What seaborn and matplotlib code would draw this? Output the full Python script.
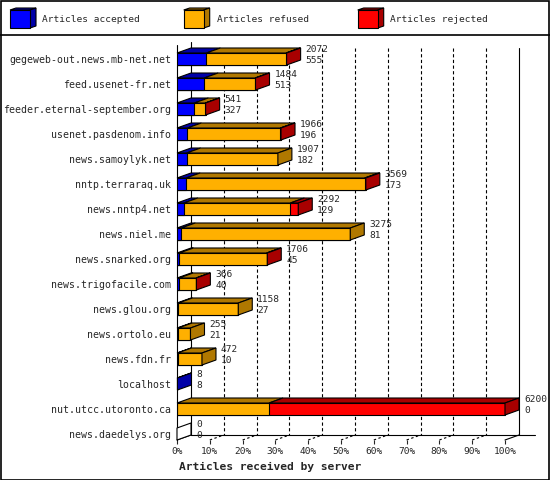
import numpy as np
import pandas as pd
import matplotlib
matplotlib.use("Agg")
import matplotlib.pyplot as plt
from matplotlib.patches import Polygon, Rectangle
from matplotlib.lines import Line2D
import seaborn as sns

# ---------------- data ----------------
hosts = [
    "gegeweb-out.news.mb-net.net", "feed.usenet-fr.net", "feeder.eternal-september.org",
    "usenet.pasdenom.info", "news.samoylyk.net", "nntp.terraraq.uk", "news.nntp4.net",
    "news.niel.me", "news.snarked.org", "news.trigofacile.com", "news.glou.org",
    "news.ortolo.eu", "news.fdn.fr", "localhost", "nut.utcc.utoronto.ca", "news.daedelys.org",
]
total = [2072, 1484, 541, 1966, 1907, 3569, 2292, 3275, 1706, 366, 1158, 255, 472, 8, 6200, 0]
accepted = [555, 513, 327, 196, 182, 173, 129, 81, 45, 40, 27, 21, 10, 8, 0, 0]
refused = [1505, 963, 209, 1758, 1725, 3374, 2013, 3194, 1649, 320, 1131, 234, 462, 0, 1740, 0]
rejected = [12, 8, 5, 12, 0, 22, 150, 0, 12, 6, 0, 0, 0, 0, 4460, 0]
series_names = ["Articles accepted", "Articles refused", "Articles rejected"]
x_ticks = [0, 10, 20, 30, 40, 50, 60, 70, 80, 90, 100]
x_tick_labels = [f"{t}%" for t in x_ticks]
x_title = "Articles received by server"

FRONT = ["#0000FF", "#FFB000", "#FF0000"]
DARK = ["#0000A8", "#B07800", "#A80000"]

# ---------------- figure ----------------
W, H = 550, 480
sns.set_style("white")
plt.rcParams["font.family"] = ["DejaVu Sans Mono"]
fig = plt.figure(figsize=(W / 100, H / 100), dpi=100)

PX = 3.28            # pixels per percent
AX_L, AX_R, AX_T, AX_B = 177, 519, 42, 440
ROW0, ROWH = 59, 25
ax = fig.add_axes([AX_L / W, 1 - AX_B / H, (AX_R - AX_L) / W, (AX_B - AX_T) / H])

vmax = max(total)
df = pd.DataFrame({
    "host": hosts,
    "acc_pct": [a / vmax * 100 for a in accepted],
    "accref_pct": [(a + r) / vmax * 100 for a, r in zip(accepted, refused)],
    "tot_pct": [(a + r + j) / vmax * 100 for a, r, j in zip(accepted, refused, rejected)],
})

BAR_H = 12 / ROWH
hh = BAR_H / 2
dx = 14 / PX
dy = 5 / ROWH
lw = 0.8

for col, ci in [("tot_pct", 2), ("accref_pct", 1), ("acc_pct", 0)]:
    sns.barplot(data=df, x=col, y="host", order=hosts, orient="h", color=FRONT[ci],
                saturation=1, width=BAR_H, edgecolor="black", linewidth=lw,
                errorbar=None, ax=ax, zorder=3)

y_floor_front = (AX_B - ROW0) / ROWH
y_floor_back = (435 - ROW0) / ROWH
ax.set_xlim(0, (AX_R - AX_L) / PX)
ax.set_ylim(y_floor_front, (AX_T - ROW0) / ROWH)
for s in ax.spines.values():
    s.set_visible(False)
ax.set_xlabel("")
ax.set_ylabel("")

# walls / grid
top_grid = (48 - ROW0) / ROWH
ax.plot([dx, dx], [(AX_T - ROW0) / ROWH, y_floor_back], color="black", lw=lw, zorder=1, clip_on=False)
ax.plot([100 + dx, 100 + dx], [top_grid, y_floor_back], color="black", lw=lw, zorder=1, clip_on=False)
for t in x_ticks[1:-1]:
    ax.plot([t + dx, t + dx], [top_grid, y_floor_back], color="black", lw=lw,
            dashes=(2.9, 2.2), zorder=1, clip_on=False)
    ax.plot([t, t + dx], [y_floor_front, y_floor_back], color="black", lw=lw,
            dashes=(2.2, 2.2), zorder=1, clip_on=False)
ax.plot([dx, (535 - AX_L) / PX], [y_floor_back, y_floor_back], color="black", lw=lw, zorder=1, clip_on=False)
ax.plot([0, dx], [y_floor_front, y_floor_back], color="black", lw=lw, zorder=1, clip_on=False)
ax.plot([100, 100 + dx], [y_floor_front, y_floor_back], color="black", lw=lw, zorder=1, clip_on=False)
ax.plot([0, 0], [(45 - ROW0) / ROWH, y_floor_front], color="black", lw=lw, zorder=2, clip_on=False)

# 3D faces and value labels
for i in range(len(hosts)):
    segs = [accepted[i], refused[i], rejected[i]]
    left = 0.0
    last = None
    for k, v in enumerate(segs):
        w = v / vmax * 100
        if v > 0:
            yt = i - hh
            ax.add_patch(Polygon([(left, yt), (left + w, yt), (left + w + dx, yt - dy), (left + dx, yt - dy)],
                                 closed=True, fc=DARK[k], ec="black", lw=lw, zorder=4, clip_on=False))
            last = k
        left += w
    end = left
    fc = DARK[last] if last is not None else "white"
    ax.add_patch(Polygon([(end, i - hh), (end, i + hh), (end + dx, i + hh - dy), (end + dx, i - hh - dy)],
                         closed=True, fc=fc, ec="black", lw=lw, zorder=4, clip_on=False))
    ax.text(end + dx + 5 / PX, i - 9 / ROWH, f"{total[i]}", fontsize=6.8, ha="left", va="center",
            zorder=5, clip_on=False)
    ax.text(end + dx + 5 / PX, i + 2 / ROWH, f"{accepted[i]}", fontsize=6.8, ha="left", va="center",
            zorder=5, clip_on=False)

ax.set_xticks(x_ticks)
ax.set_xticklabels(x_tick_labels)
ax.tick_params(axis="x", length=3, width=lw, direction="out", pad=2, labelsize=6.8, bottom=True)
ax.tick_params(axis="y", length=0, pad=4.3, labelsize=7.1)

fig.text(179 / W, 1 - 467 / H, x_title, fontsize=8.1, fontweight="bold", ha="left", va="center")

# legend (3D cubes)
def fx(px):
    return px / W

def fy(py):
    return 1 - py / H

for k, (cx, tx) in enumerate([(10, 42), (183.7, 216.7), (357.7, 390)]):
    x0, x1, yt, yb, cdx, cdy = cx, cx + 20, 10, 28, 6, 2
    fig.add_artist(Polygon([(fx(x0), fy(yt)), (fx(x1), fy(yt)), (fx(x1 + cdx), fy(yt - cdy)), (fx(x0 + cdx), fy(yt - cdy))],
                           closed=True, fc=DARK[k], ec="black", lw=lw, transform=fig.transFigure))
    fig.add_artist(Polygon([(fx(x1), fy(yt)), (fx(x1), fy(yb)), (fx(x1 + cdx), fy(yb - cdy)), (fx(x1 + cdx), fy(yt - cdy))],
                           closed=True, fc=DARK[k], ec="black", lw=lw, transform=fig.transFigure))
    fig.add_artist(Rectangle((fx(x0), fy(yb)), fx(x1) - fx(x0), fy(yt) - fy(yb), fc=FRONT[k], ec="black",
                             lw=lw, transform=fig.transFigure))
    fig.text(fx(tx), fy(20), series_names[k], fontsize=6.8, ha="left", va="center")

fig.add_artist(Line2D([0, 1], [fy(35), fy(35)], color="black", lw=1.2, transform=fig.transFigure))
fig.add_artist(Rectangle((0.5 / W, 0.5 / H), (W - 1.5) / W, (H - 1.5) / H, fill=False, ec="black",
                         lw=1.2, transform=fig.transFigure))

fig.savefig("out.png", dpi=100)
